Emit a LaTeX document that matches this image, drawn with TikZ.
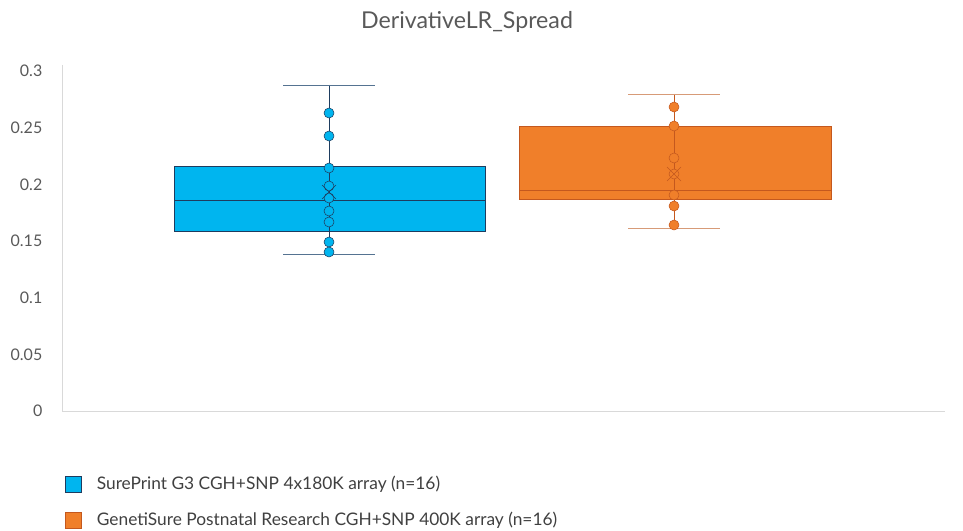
\documentclass[tikz,border=0pt]{standalone}
\usepackage{fontspec}
\setmainfont{Lato}
\usetikzlibrary{positioning}
\usepackage{xcolor}
\definecolor{boxblue}{RGB}{0,181,239}
\definecolor{lineblue}{RGB}{30,60,95}
\definecolor{capblue}{RGB}{85,115,145}
\definecolor{boxorange}{RGB}{240,127,42}
\definecolor{lineorange}{RGB}{196,88,30}
\definecolor{caporange}{RGB}{215,155,120}
\definecolor{axisgray}{RGB}{217,217,217}
\definecolor{textgray}{RGB}{89,89,89}

\begin{document}
\begin{tikzpicture}[
      x=0.75pt, y=-0.75pt,
      node distance=11.5pt,
      tick/.style={anchor=east, text=textgray, font=\fontsize{12}{14}\selectfont},
      bdot/.style={circle, draw=lineblue, fill=boxblue, inner sep=0pt, minimum size=7.5pt},
      odot/.style={circle, draw=lineorange, fill=boxorange, inner sep=0pt, minimum size=7.5pt},
      legkey/.style={draw, inner sep=0pt, minimum size=12pt},
      legtext/.style={right=of #1, inner sep=0pt, text=black!75, font=\fontsize{13}{15}\selectfont}
    ]
    \useasboundingbox (0,0) rectangle (963,531);
    \node[text=textgray, font=\fontsize{17.4}{20}\selectfont] (title) at (467,22) {DerivativeLR\_Spread};

    % axis
    \draw[axisgray] (62,65) -- (62,411) -- (945,411);
    \foreach \v/\lab in {0/0, 0.05/0.05, 0.1/0.1, 0.15/0.15, 0.2/0.2, 0.25/0.25, 0.3/0.3}
      \node[tick] (t\lab) at (47,{411-1133*\v}) {\lab};

    % SurePrint box
    \draw[lineblue, fill=boxblue] (174,166) rectangle (485,231);
    \draw[lineblue] (174,200) -- (485,200);
    \draw[lineblue] (329,85) -- (329,254);
    \draw[capblue] (283,85) -- (375,85);
    \draw[capblue] (283,254) -- (375,254);
    \foreach \y [count=\i] in {113,136,168,186,198,211,222,242,252}
      \node[bdot] (b\i) at (329,\y) {};
    \draw[lineblue] (322,185) -- (336,199) (322,199) -- (336,185);

    % GenetiSure box
    \draw[lineorange, fill=boxorange] (519,126) rectangle (831,199);
    \draw[lineorange] (519,190) -- (831,190);
    \draw[lineorange] (674,94) -- (674,228);
    \draw[caporange] (628,94) -- (720,94);
    \draw[caporange] (628,228) -- (720,228);
    \foreach \y [count=\i] in {107,126,158,174,195,206,225}
      \node[odot] (o\i) at (674,\y) {};
    \draw[lineorange] (667,167) -- (681,181) (667,181) -- (681,167);

    % legend
    \node[legkey, draw=lineblue, fill=boxblue] (kb) at (73,484) {};
    \node[legtext=kb] (lb) {SurePrint G3 CGH+SNP 4x180K array (n=16)};
    \node[legkey, draw=lineorange, fill=boxorange] (ko) at (73,520) {};
    \node[legtext=ko] (lo) {GenetiSure Postnatal Research CGH+SNP 400K array (n=16)};
  \end{tikzpicture}
\end{document}
